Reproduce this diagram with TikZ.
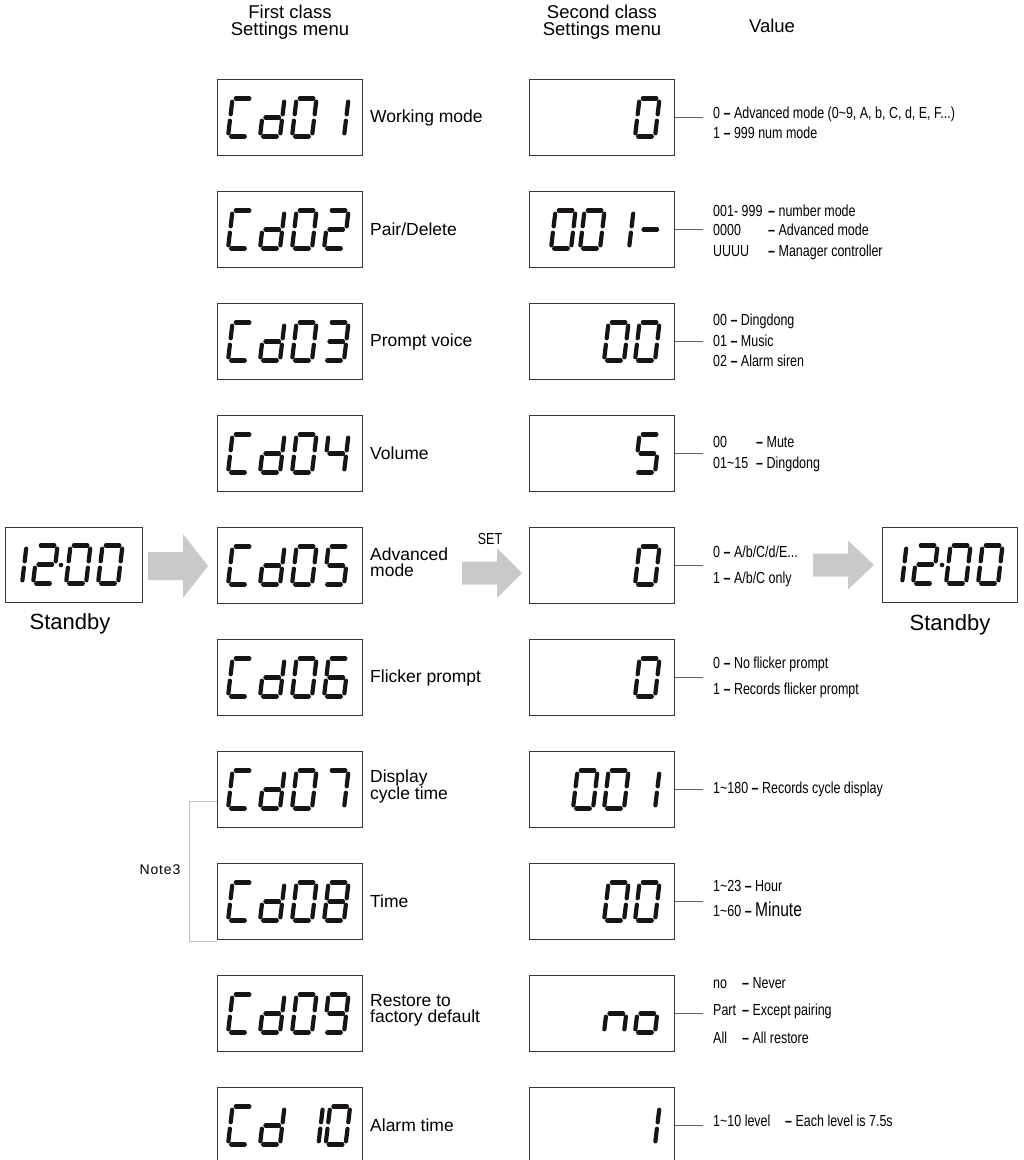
\documentclass[tikz,border=0pt]{standalone}
\usepackage{fontspec}
\setmainfont{Liberation Sans}
\newfontfamily\valfont[FakeStretch=0.78]{Liberation Sans}
\usetikzlibrary{calc}

\definecolor{framegray}{RGB}{55,55,55}
\definecolor{linegray}{RGB}{95,95,95}
\definecolor{notegray}{RGB}{190,190,190}
\definecolor{arrowgray}{RGB}{200,201,202}
\definecolor{segblack}{RGB}{25,20,20}

% seven segment glyphs
\def\glC{a,d,e,f}
\def\gld{b,c,d,e,g}
\def\gln{c,e,g}
\def\glo{c,d,e,g}
\expandafter\def\csname gl0\endcsname{a,b,c,d,e,f}
\expandafter\def\csname gl1\endcsname{b,c}
\expandafter\def\csname gl2\endcsname{a,b,g,e,d}
\expandafter\def\csname gl3\endcsname{a,b,g,c,d}
\expandafter\def\csname gl4\endcsname{f,g,b,c}
\expandafter\def\csname gl5\endcsname{a,f,g,c,d}
\expandafter\def\csname gl6\endcsname{a,f,g,e,c,d}
\expandafter\def\csname gl7\endcsname{a,b,c}
\expandafter\def\csname gl8\endcsname{a,b,c,d,e,f,g}
\expandafter\def\csname gl9\endcsname{a,b,c,d,f,g}
\expandafter\def\csname gl-\endcsname{g}

\tikzset{
  seg a/.style={insert path={(3.2,38) -- (16.8,38)}},
  seg b/.style={insert path={(20,34.8) -- (20,22.2)}},
  seg c/.style={insert path={(20,15.8) -- (20,3.2)}},
  seg d/.style={insert path={(3.2,0) -- (16.8,0)}},
  seg e/.style={insert path={(0,3.2) -- (0,15.8)}},
  seg f/.style={insert path={(0,22.2) -- (0,34.8)}},
  seg g/.style={insert path={(3.2,19) -- (16.8,19)}},
  segline/.style={draw=segblack, line width=4.2pt, line cap=round},
  lcd/.style={draw=framegray, line width=1pt, minimum width=145pt, minimum height=76pt, inner sep=0pt},
  link/.style={draw=linegray, line width=0.9pt},
  notebar/.style={draw=notegray, line width=1pt},
  menulabel/.style={font=\fontsize{17.5}{16.5}\selectfont, anchor=west, align=left, inner sep=0pt},
  header/.style={font=\fontsize{18.5}{17.5}\selectfont, align=center, inner sep=0pt},
  valtext/.style={font=\valfont\fontsize{16}{18}\selectfont, anchor=west, inner sep=0pt, text height=11pt, text depth=3pt},
}

% one lcd character, lower left corner at (#1,#2)
\newcommand\lcdchar[3]{%
  \begin{scope}[shift={(#1,#2)}, x=1pt, y=1pt, xslant=0.12]
    \expandafter\let\expandafter\segs\csname gl#3\endcsname
    \foreach \s in \segs {\edef\next{\noexpand\draw[segline, seg \s];}\next}
  \end{scope}}
% a row of characters: first cell x, bottom y, pitch, glyph/cell list
\newcommand\lcdshow[4]{\foreach \g/\p in {#4} {\lcdchar{#1+#3*\p}{#2}{\g}}}
% big gray arrow: tail x, head base x, tip x, y, half shaft, half head
\newcommand\fatarrow[6]{%
  \fill[arrowgray] (#1,#4-#5) -- (#2,#4-#5) -- (#2,#4-#6) -- (#3,#4) -- (#2,#4+#6) -- (#2,#4+#5) -- (#1,#4+#5) -- cycle;}
\newcommand\keycol[2]{\makebox[#1][l]{#2}}
\newcommand\vd{{\bfseries –}}

\begin{document}
\begin{tikzpicture}[x=1pt, y=-1pt]
\useasboundingbox (0,0) rectangle (1024,1160);

% column heads
\node[header] (h1) at (290,22) {First class\\Settings menu};
\node[header] (h2) at (602,22) {Second class\\Settings menu};
\node[header] (h3) at (772,26) {Value};

% menu boxes
\foreach \i in {1,...,10} {
  \node[lcd] (cd\i) at (289.5,117.5+112*\i-112) {};
  \node[lcd] (val\i) at (601.5,117.5+112*\i-112) {};
  \coordinate (tap\i) at (703,117.5+112*\i-112);
  \draw[link] (val\i.east) -- (tap\i);
}

% first class codes
\foreach \dg in {1,...,9} {
  \lcdshow{228}{136.5+112*\dg-112}{32}{C/0,d/1,0/2,\dg/3}
}
\lcdshow{228}{1144.5}{32}{C/0,d/1,1/2.2,0/3.05}

% second class values
\lcdshow{542}{136.5}{31}{0/3}
\lcdshow{551}{248.5}{29}{0/0,0/1,1/2,-/3}
\lcdshow{542}{360.5}{31}{0/2,0/3}
\lcdshow{542}{472.5}{31}{5/3}
\lcdshow{542}{584.5}{31}{0/3}
\lcdshow{542}{696.5}{31}{0/3}
\lcdshow{542}{808.5}{31}{0/1,0/2,1/3}
\lcdshow{542}{920.5}{31}{0/2,0/3}
\lcdshow{542}{1032.5}{31}{n/2,o/3}
\lcdshow{542}{1144.5}{31}{1/3}

% menu names
\node[menulabel] (l1) at (370,117.5) {Working mode};
\node[menulabel] (l2) at (370,229.5) {Pair/Delete};
\node[menulabel] (l3) at (370,341.5) {Prompt voice};
\node[menulabel] (l4) at (370,453.5) {Volume};
\node[menulabel] (l5) at (370,562) {Advanced\\mode};
\node[menulabel] (l6) at (370,677.5) {Flicker prompt};
\node[menulabel] (l7) at (370,786.5) {Display\\cycle time};
\node[menulabel] (l8) at (370,901.5) {Time};
\node[menulabel] (l9) at (370,1010.5) {Restore to\\factory default};
\node[menulabel] (l10) at (370,1125.5) {Alarm time};

% values
\node[valtext] (v1a) at (713,114.5) {0 \vd{} Advanced mode (0\textasciitilde9, A, b, C, d, E, F...)};
\node[valtext] (v1b) at (713,134.5) {1 \vd{} 999 num mode};
\node[valtext] (v2a) at (713,212.5) {\keycol{55pt}{001- 999}\vd{} number mode};
\node[valtext] (v2b) at (713,231.5) {\keycol{55pt}{0000}\vd{} Advanced mode};
\node[valtext] (v2c) at (713,252.5) {\keycol{55pt}{UUUU}\vd{} Manager controller};
\node[valtext] (v3a) at (713,321.5) {00 \vd{} Dingdong};
\node[valtext] (v3b) at (713,342.5) {01 \vd{} Music};
\node[valtext] (v3c) at (713,362.5) {02 \vd{} Alarm siren};
\node[valtext] (v4a) at (713,443.5) {\keycol{43pt}{00}\vd{} Mute};
\node[valtext] (v4b) at (713,464.5) {\keycol{43pt}{01\textasciitilde15}\vd{} Dingdong};
\node[valtext] (v5a) at (713,553.5) {0 \vd{} A/b/C/d/E...};
\node[valtext] (v5b) at (713,579.5) {1 \vd{} A/b/C only};
\node[valtext] (v6a) at (713,664.5) {0 \vd{} No flicker prompt};
\node[valtext] (v6b) at (713,690.5) {1 \vd{} Records flicker prompt};
\node[valtext] (v7a) at (713,789.5) {1\textasciitilde180 \vd{} Records cycle display};
\node[valtext] (v8a) at (713,887.5) {1\textasciitilde23 \vd{} Hour};
\node[valtext] (v8b) at (713,912.5) {1\textasciitilde60 \vd{} {\fontsize{20}{20}\selectfont Minute}};
\node[valtext] (v9a) at (713,984.5) {\keycol{29pt}{no}\vd{} Never};
\node[valtext] (v9b) at (713,1011.5) {\keycol{29pt}{Part}\vd{} Except pairing};
\node[valtext] (v9c) at (713,1039.5) {\keycol{29pt}{All}\vd{} All restore};
\node[valtext] (v10a) at (713,1122.5) {\keycol{72pt}{1\textasciitilde10 level}\vd{} Each level is 7.5s};

% standby displays
\node[lcd, minimum width=137pt, minimum height=75pt] (sb1) at (73.5,564.5) {};
\node[lcd, minimum width=135pt, minimum height=75pt] (sb2) at (949.5,564.5) {};
\lcdchar{2}{583.5}{1}
\lcdchar{33}{583.5}{2}
\fill[segblack] (61,565) circle (2.3pt);
\lcdchar{66}{583.5}{0}
\lcdchar{98}{583.5}{0}
\lcdchar{882}{583.5}{1}
\lcdchar{913}{583.5}{2}
\fill[segblack] (942,565) circle (2.3pt);
\lcdchar{946}{583.5}{0}
\lcdchar{978}{583.5}{0}
\node[font=\fontsize{22}{24}\selectfont] (st1) at (70,624) {Standby};
\node[font=\fontsize{22}{24}\selectfont] (st2) at (950,625) {Standby};

% flow arrows
\fatarrow{148}{183}{208}{566}{14}{32}
\fatarrow{462}{497}{522}{573}{11.5}{25}
\fatarrow{813}{848}{874}{565}{11.5}{24.5}
\node[font=\valfont\fontsize{16}{16}\selectfont] (set) at (490,539) {SET};

% note bracket
\draw[notebar] (217,801) -- (189,801) |- (217,941);
\node[font=\fontsize{14}{14}\selectfont\addfontfeatures{LetterSpace=6}] (n3) at (160,870) {Note3};
\end{tikzpicture}
\end{document}
